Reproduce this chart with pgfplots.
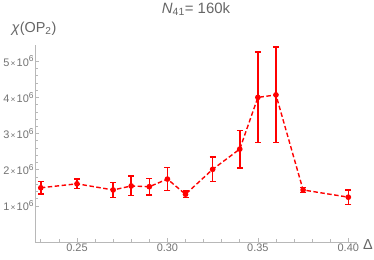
\documentclass[border=0pt]{standalone}
\usepackage{pgfplots}
\pgfplotsset{compat=1.18}
\usepackage{fontspec}
\setmainfont{Liberation Sans}
\definecolor{txt}{gray}{0.4}
\definecolor{tk}{gray}{0.45}
\definecolor{axc}{gray}{0.72}
\pgfplotstableread{
x y e
0.23 1.50 0.17
0.25 1.61 0.13
0.27 1.44 0.21
0.28 1.55 0.27
0.29 1.53 0.23
0.30 1.74 0.32
0.31 1.32 0.09
0.325 2.01 0.34
0.34 2.57 0.52
0.35 4.00 1.25
0.36 4.07 1.32
0.375 1.44 0.07
0.40 1.24 0.20
}\datatable
\newcommand{\tl}[1]{#1\hspace{1.2bp}{\fontsize{8.5}{9}\selectfont×}\hspace{1.2bp}10\raisebox{0.75ex}{\fontsize{8.5}{9}\selectfont 6}}
\begin{document}
\begin{tikzpicture}
\begin{axis}[
 at={(0,0)}, anchor=south west,
 scale only axis, width=322bp, height=197bp,
 xmin=0.2268, xmax=0.4048, ymin=0, ymax=5.45,
 axis lines=left, axis line style={axc, -, line width=0.6bp},
 xtick={0.25,0.30,0.35,0.40},
 xticklabels={0.25,0.30,0.35,0.40},
 minor xtick={0.23,0.24,0.26,0.27,0.28,0.29,0.31,0.32,0.33,0.34,0.36,0.37,0.38,0.39},
 ytick={1,2,3,4,5},
 yticklabels={\tl{1},\tl{2},\tl{3},\tl{4},\tl{5}},
 minor y tick num=4,
 tick style={axc, line width=0.6bp}, major tick length=4bp, minor tick length=2.5bp,
 tick align=inside,
 /pgf/number format/assume math mode=true,
 ticklabel style={font=\fontsize{11}{12}\selectfont, text=tk},
 yticklabel style={inner sep=1.2bp},
 xticklabel style={inner sep=2bp},
 clip=false,
]
\addplot[color=red, line width=1.4bp, dash pattern=on 4.5bp off 2.5bp, mark=*, mark size=2.1bp, mark options={solid, fill=red, draw=red},
 error bars/.cd, y dir=both, y explicit,
 error bar style={draw=red, color=red, line width=1.6bp, solid},
 error mark options={draw=red, color=red, rotate=90, mark size=3bp, line width=1.5bp, solid}]
 table[x=x, y=y, y error=e] {\datatable};
\node[text=txt, font=\fontsize{15}{17}\selectfont] at (rel axis cs:0.5,1) [yshift=36bp] {\textit{N}\textsubscript{41}= 160k};
\node[text=txt, font=\fontsize{14.5}{16}\selectfont, anchor=west, inner sep=0pt] at (rel axis cs:0,1) [xshift=-23.5bp, yshift=16bp] {\textit{χ}(OP\textsubscript{2})};
\node[text=txt, font=\fontsize{14.5}{16}\selectfont] at (rel axis cs:1,0) [xshift=11bp, yshift=-3bp] {Δ};
\end{axis}
\pgfresetboundingbox
\path[use as bounding box] (-35bp,-18bp) rectangle (339bp,242bp);
\end{tikzpicture}
\end{document}
